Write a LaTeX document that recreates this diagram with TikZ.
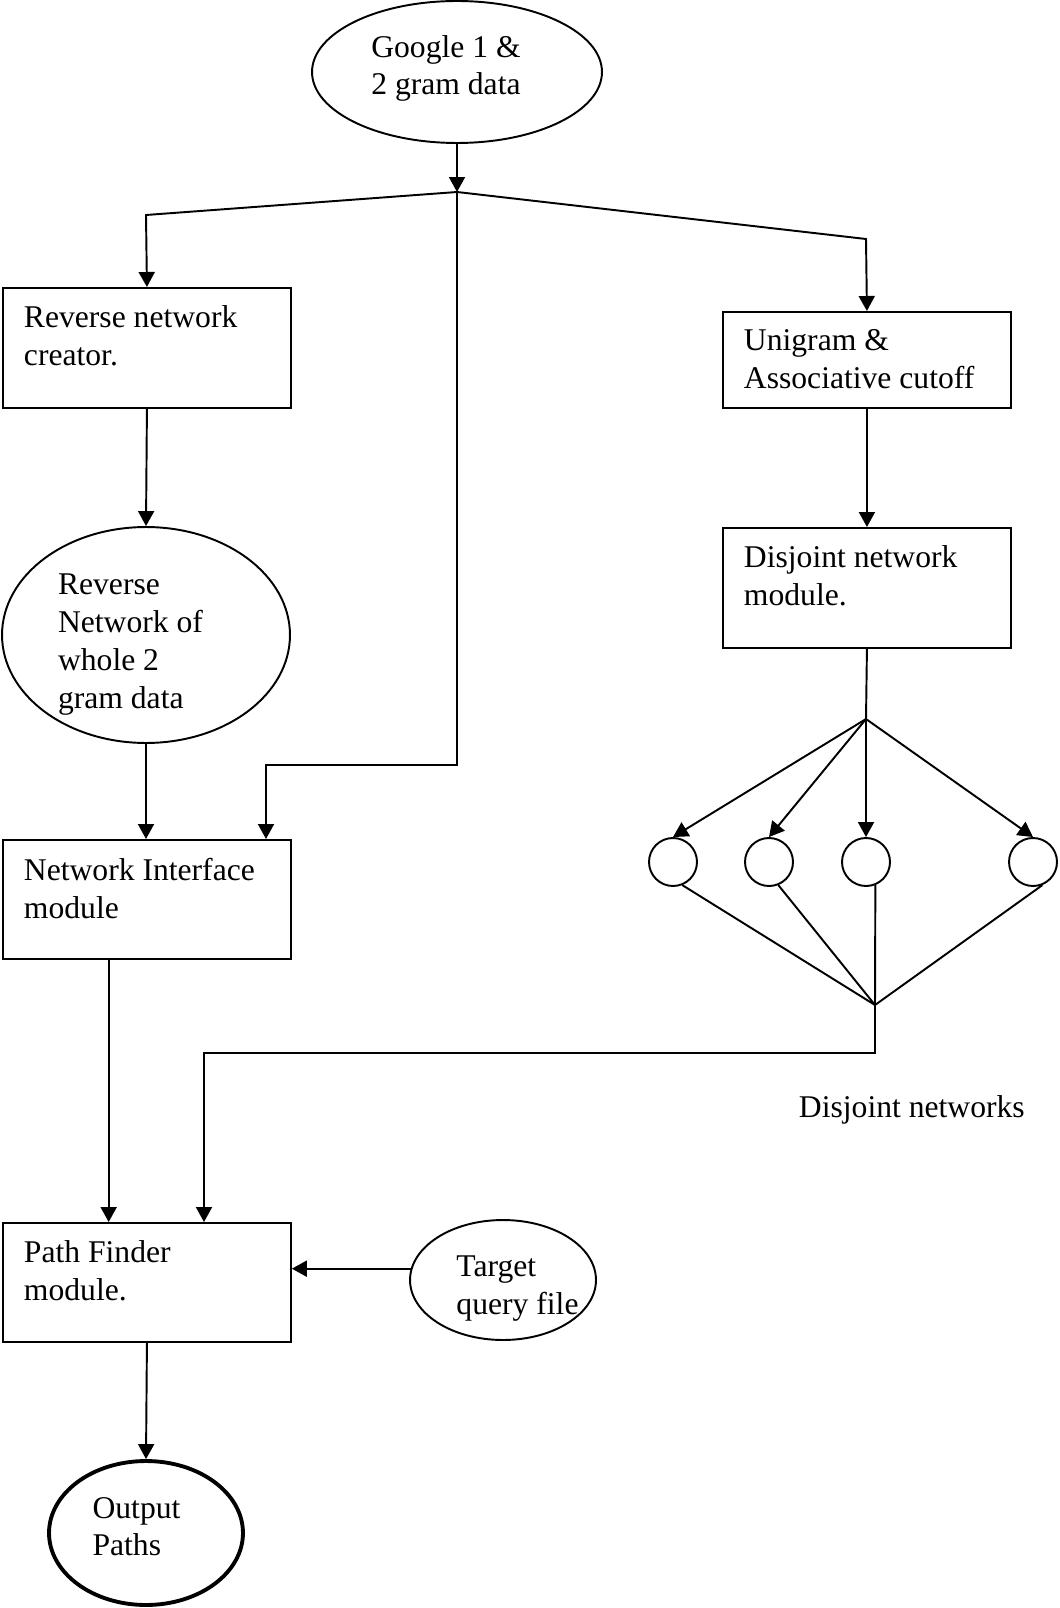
\documentclass[tikz,border=0pt]{standalone}
\usepackage{fontspec}
\setmainfont{Liberation Serif}
\usetikzlibrary{arrows.meta,calc,shapes.geometric}
\newcommand{\boxtext}[2]{\parbox[t][#1][t]{4.92cm}{\raggedright #2}}
\newcommand{\blobtext}[3]{\raisebox{#2}[\height][\depth]{\hspace*{#1}\begin{tabular}{@{}l@{}}#3\end{tabular}\hspace*{-#1}}}

\begin{document}
\begin{tikzpicture}[x=0.02cm, y=-0.02cm, line width=1.1pt,
		font=\fontsize{18}{21.5}\selectfont,
		arr/.style={-{Triangle[length=0.3cm,width=0.32cm]}},
		module/.style={draw, rectangle, anchor=north west, inner xsep=0.42cm, inner ysep=0.36cm},
		blob/.style={draw, ellipse, inner sep=0pt},
		net/.style={draw, circle, minimum size=0.96cm, inner sep=0pt}]
		%%%%% START %%%%%
		
		\useasboundingbox (0,0) rectangle (1059,1608);
		
		\node[blob, minimum width=5.8cm, minimum height=2.84cm] (google) at (457,72) {\blobtext{-0.22cm}{0.07cm}{Google 1 \&\\2 gram data}};
		\coordinate (split) at (457,192);
		\draw[arr] (google.south) -- (split);
		
		\node[module] (rnc) at (2,287) {\boxtext{1.68cm}{Reverse network creator.}};
		\node[module] (uac) at (722,311) {\boxtext{1.2cm}{Unigram \&\\Associative cutoff}};
		\coordinate (lcorner) at (146,215);
		\coordinate (rcorner) at (866,239);
		\draw[arr] (split) -- (lcorner) -- (rnc.north);
		\draw[arr] (split) -- (rcorner) -- (uac.north);
		
		\node[blob, minimum width=5.76cm, minimum height=4.32cm] (rev) at (146,635) {\blobtext{-0.31cm}{-0.18cm}{Reverse\\Network of\\whole 2\\gram data}};
		\draw[arr] (rnc.south) -- (rev.north);
		
		\node[module] (djm) at (722,527) {\boxtext{1.68cm}{Disjoint network\\module.}};
		\draw[arr] (uac.south) -- (djm.north);
		
		\node[module] (nim) at (2,839) {\boxtext{1.66cm}{Network Interface\\module}};
		\draw[arr] (rev.south) -- (rev.south |- nim.north);
		\coordinate (mcorner) at (457,765);
		\coordinate (mleft) at (266,765);
		\draw[arr] (split) -- (mcorner) -- (mleft) -- (mleft |- nim.north);
		
		% disjoint networks
		\coordinate (apex) at (866,719);
		\draw (djm.south) -- (apex);
		\node[net] (n1) at (673,862) {};
		\node[net] (n2) at (769,862) {};
		\node[net] (n3) at (866,862) {};
		\node[net] (n4) at (1033,862) {};
		\draw[arr] (apex) -- (n1.north);
		\draw[arr] (apex) -- (n2.north);
		\draw[arr] (apex) -- (n3.north);
		\draw[arr] (apex) -- (n4.north);
		\coordinate (merge) at (875,1005);
		\draw (n1.-68) -- (merge);
		\draw (n2.-68) -- (merge);
		\draw (n3.-68) -- (merge);
		\draw (n4.-68) -- (merge);
		\node[anchor=base west, inner sep=0pt] (djlabel) at (798,1117) {Disjoint networks};
		
		\node[module] (pfm) at (2,1222) {\boxtext{1.66cm}{Path Finder\\module.}};
		\coordinate (mdown) at (875,1053);
		\coordinate (pleft) at (204,1053);
		\draw[arr] (merge) -- (mdown) -- (pleft) -- (pleft |- pfm.north);
		\coordinate (nimout) at ($(nim.south west)!0.368!(nim.south east)$);
		\draw[arr] (nimout) -- (nimout |- pfm.north);
		
		\node[blob, minimum width=3.72cm, minimum height=2.4cm] (tqf) at (503,1280) {\blobtext{0.29cm}{-0.16cm}{Target\\query file}};
		\draw[arr] (tqf.173) -- (tqf.173 -| pfm.east);
		
		\node[blob, line width=2.2pt, minimum width=3.88cm, minimum height=2.88cm] (out) at (146,1533) {\blobtext{-0.19cm}{0.07cm}{Output\\Paths}};
		\draw[arr] (pfm.south) -- (out.north);
		
		%%%%% END %%%%%
	\end{tikzpicture}
\end{document}
